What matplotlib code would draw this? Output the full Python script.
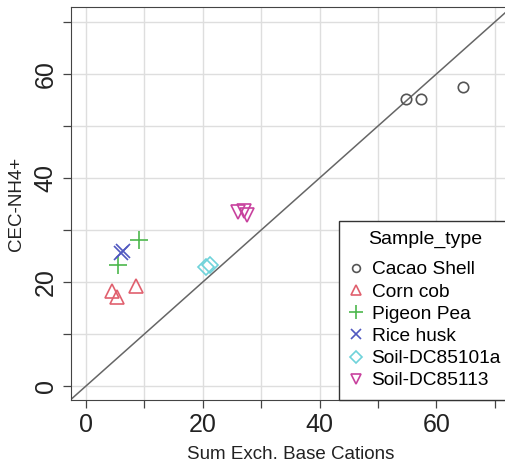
import matplotlib
matplotlib.use("Agg")
import matplotlib.pyplot as plt
import numpy as np

plt.rcParams['font.family'] = ['Liberation Sans', 'DejaVu Sans']

# data
sample_types = ["Cacao Shell", "Corn cob", "Pigeon Pea", "Rice husk",
                "Soil-DC85101a", "Soil-DC85113"]
base_cations = {
    "Cacao Shell": [54.8, 57.3, 64.6],
    "Corn cob": [4.4, 5.3, 8.6],
    "Pigeon Pea": [5.4, 9.1],
    "Rice husk": [6.0, 6.3],
    "Soil-DC85101a": [20.6, 21.2],
    "Soil-DC85113": [26.1, 27.0, 27.5],
}
cec_nh4 = {
    "Cacao Shell": [55.2, 55.1, 57.5],
    "Corn cob": [18.3, 17.2, 19.2],
    "Pigeon Pea": [23.3, 28.1],
    "Rice husk": [25.5, 26.0],
    "Soil-DC85101a": [22.8, 23.2],
    "Soil-DC85113": [33.4, 33.6, 32.9],
}
markers = ["o", "^", "+", "x", "D", "v"]
msizes = [7.5, 10, 13, 9.5, 8, 10]
colors = ["#555555", "#E0606E", "#4DB84D", "#5058C0", "#6FD3DA", "#C8429E"]

fig = plt.figure(figsize=(5.05, 4.63), dpi=100)
ax = fig.add_axes([71/505, 63/463, 439/505, 393/463])

x0, xs = 86, 5.84
y0, ys = 386, 5.2
ax.set_xlim((71 - x0)/xs, (510 - x0)/xs)
ax.set_ylim((y0 - 400)/ys, (y0 - 7)/ys)

ax.set_xticks([0, 20, 40, 60])
ax.set_yticks([0, 20, 40, 60])
ax.set_xticks([10, 30, 50, 70], minor=True)
ax.set_yticks([10, 30, 50, 70], minor=True)
ax.grid(True, which='both', color='#DEDEDE', linewidth=1)
ax.set_axisbelow(True)
ax.tick_params(which='both', direction='out', length=6, width=0.9,
               color='#444444', labelsize=18, labelcolor='#222222')
plt.setp(ax.get_yticklabels(), rotation=90, va='center')
for s in ['left', 'bottom', 'top']:
    ax.spines[s].set_color('#444444')
ax.spines['right'].set_visible(False)

# 1:1 line
lim = np.array([-5, 80])
ax.plot(lim, lim, color='#666666', linewidth=1.1, zorder=2)

handles = []
for st, m, ms, c in zip(sample_types, markers, msizes, colors):
    h, = ax.plot(base_cations[st], cec_nh4[st], linestyle='none', marker=m,
                 markersize=ms, markerfacecolor='none', markeredgecolor=c,
                 markeredgewidth=1.2, color=c, label=st, zorder=3)
    handles.append(h)

ax.set_xlabel("Sum Exch. Base Cations", fontsize=13.5, color='#222222', labelpad=6)
ax.set_ylabel("CEC-NH4+", fontsize=13.5, color='#222222', labelpad=6)

leg = ax.legend(handles=handles, title="Sample_type", loc='lower left',
                bbox_to_anchor=((339 - 71)/439, 0), borderaxespad=0,
                fontsize=13.8, title_fontsize=14, frameon=True, fancybox=False,
                framealpha=1, edgecolor='#333333', handlelength=0.7,
                handletextpad=0.45, labelspacing=0.25, markerscale=0.75,
                borderpad=0.55)
leg.get_frame().set_linewidth(1.0)
leg._legend_box.sep = 9

fig.savefig("out.png", dpi=100)
